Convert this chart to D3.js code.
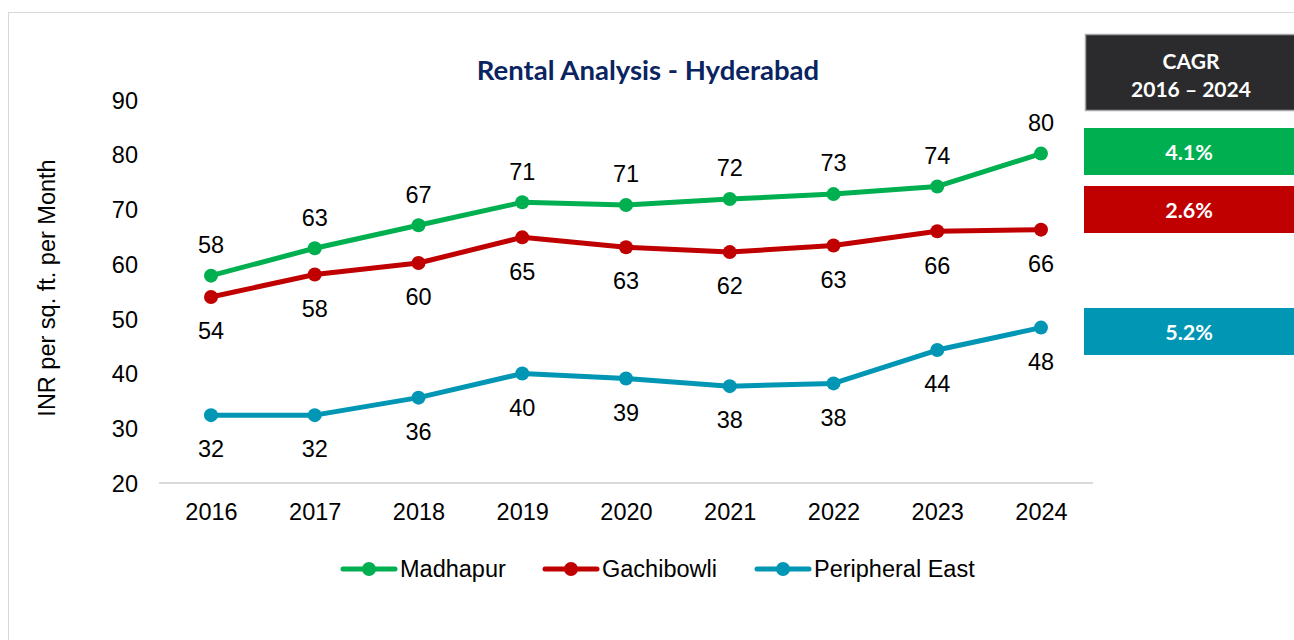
<!DOCTYPE html>
<html><head><meta charset="utf-8">
<script src="https://cdn.jsdelivr.net/npm/d3@7"></script>
<style>body{margin:0;background:#fff}svg{display:block}</style>
</head><body>
<svg id="c" width="1294" height="640"></svg>
<script>
const years = ["2016","2017","2018","2019","2020","2021","2022","2023","2024"];
const madhapur = [57.9, 62.9, 67.1, 71.3, 70.8, 71.9, 72.8, 74.2, 80.2];
const gachibowli = [54.0, 58.1, 60.2, 64.9, 63.1, 62.2, 63.4, 66.0, 66.3];
const peripheralEast = [32.4, 32.4, 35.6, 40.0, 39.1, 37.7, 38.2, 44.3, 48.4];
const yTicks = [20, 30, 40, 50, 60, 70, 80, 90];
const seriesNames = ["Madhapur", "Gachibowli", "Peripheral East"];
const cagrLabels = ["4.1%", "2.6%", "5.2%"];
const colors = ["#00b050", "#c00000", "#0096b4"];

const svg = d3.select("#c");
const font = "'Liberation Sans', Arial, sans-serif";
const boldFont = "Lato, 'Open Sans', sans-serif";
const fs = 23.5;

svg.append("rect").attr("x", 8.5).attr("y", 12.5).attr("width", 1300).attr("height", 700)
  .attr("fill", "#fff").attr("stroke", "#d9d9d9").attr("stroke-width", 1);

const x = d3.scalePoint().domain(years).range([211, 1041]);
const y = d3.scaleLinear().domain([20, 90]).range([483, 100]);

// title
svg.append("text").attr("x", 648).attr("y", 70).attr("dy", "0.35em").attr("text-anchor", "middle")
  .attr("font-family", boldFont).attr("font-weight", "bold").attr("font-size", 27.5)
  .attr("fill", "#0a2461").text("Rental Analysis - Hyderabad");

// y axis
const yAxis = d3.axisLeft(y).tickValues(yTicks).tickSize(0).tickPadding(0);
const ga = svg.append("g").attr("transform", "translate(138,0)").call(yAxis);
ga.select(".domain").remove();
ga.selectAll("text").attr("font-family", font).attr("font-size", fs).attr("fill", "#000").attr("text-anchor", "end").attr("dy", "0.35em");

// x axis
svg.append("line").attr("x1", 159).attr("x2", 1093).attr("y1", y(20)).attr("y2", y(20))
  .attr("stroke", "#d9d9d9").attr("stroke-width", 2);
const xAxis = d3.axisBottom(x).tickSize(0).tickPadding(0);
const gx = svg.append("g").attr("transform", "translate(0,512)").call(xAxis);
gx.select(".domain").remove();
gx.selectAll("text").attr("font-family", font).attr("font-size", fs).attr("fill", "#000").attr("dy", "0.35em");

// y label
svg.append("text").attr("transform", "translate(47,288) rotate(-90)").attr("text-anchor", "middle")
  .attr("dy", "0.35em").attr("font-family", font).attr("font-size", fs).attr("fill", "#000").text("INR per sq. ft. per Month");

const data = [madhapur, gachibowli, peripheralEast];
const labelOffsets = [-31, 34, 34];
const line = d3.line().x((d, i) => x(years[i])).y(d => y(d));
data.forEach((vals, si) => {
  svg.append("path").datum(vals).attr("d", line).attr("fill", "none")
    .attr("stroke", colors[si]).attr("stroke-width", 5).attr("stroke-linejoin", "round");
  svg.selectAll(null).data(vals).enter().append("circle")
    .attr("cx", (d, i) => x(years[i])).attr("cy", d => y(d)).attr("r", 7).attr("fill", colors[si]);
  svg.selectAll(null).data(vals).enter().append("text")
    .attr("x", (d, i) => x(years[i])).attr("y", d => y(d) + labelOffsets[si]).attr("dy", "0.35em")
    .attr("text-anchor", "middle").attr("font-family", font).attr("font-size", fs).attr("fill", "#000")
    .text(d => Math.round(d));
});

// CAGR boxes
svg.append("rect").attr("x", 1085.5).attr("y", 34.5).attr("width", 220).attr("height", 76)
  .attr("fill", "#2b2b2d").attr("stroke", "#a6a6a6").attr("stroke-width", 1.5);
svg.append("text").attr("x", 1191).attr("y", 62).attr("dy", "0.35em").attr("text-anchor", "middle")
  .attr("font-family", boldFont).attr("font-weight", "bold").attr("font-size", 21).attr("fill", "#fff").text("CAGR");
svg.append("text").attr("x", 1191).attr("y", 90).attr("dy", "0.35em").attr("text-anchor", "middle")
  .attr("font-family", boldFont).attr("font-weight", "bold").attr("font-size", 21).attr("fill", "#fff").text("2016 – 2024");
const boxY = [128, 186, 308];
cagrLabels.forEach((t, i) => {
  svg.append("rect").attr("x", 1084).attr("y", boxY[i]).attr("width", 220).attr("height", 47).attr("fill", colors[i]);
  svg.append("text").attr("x", 1189).attr("y", boxY[i] + 24).attr("dy", "0.35em").attr("text-anchor", "middle")
    .attr("font-family", boldFont).attr("font-weight", "bold").attr("font-size", 21.5).attr("fill", "#fff").text(t);
});

// legend
const legX = [341, 543, 755];
seriesNames.forEach((n, i) => {
  const g = svg.append("g").attr("transform", `translate(${legX[i]},569)`);
  g.append("line").attr("x1", 2).attr("x2", 54).attr("y1", 0).attr("y2", 0).attr("stroke", colors[i]).attr("stroke-width", 5).attr("stroke-linecap", "round");
  g.append("circle").attr("cx", 28).attr("cy", 0).attr("r", 7).attr("fill", colors[i]);
  g.append("text").attr("x", 59).attr("y", 0).attr("dy", "0.35em").attr("font-family", font).attr("font-size", fs).attr("fill", "#000").text(n);
});
</script>
</body></html>
